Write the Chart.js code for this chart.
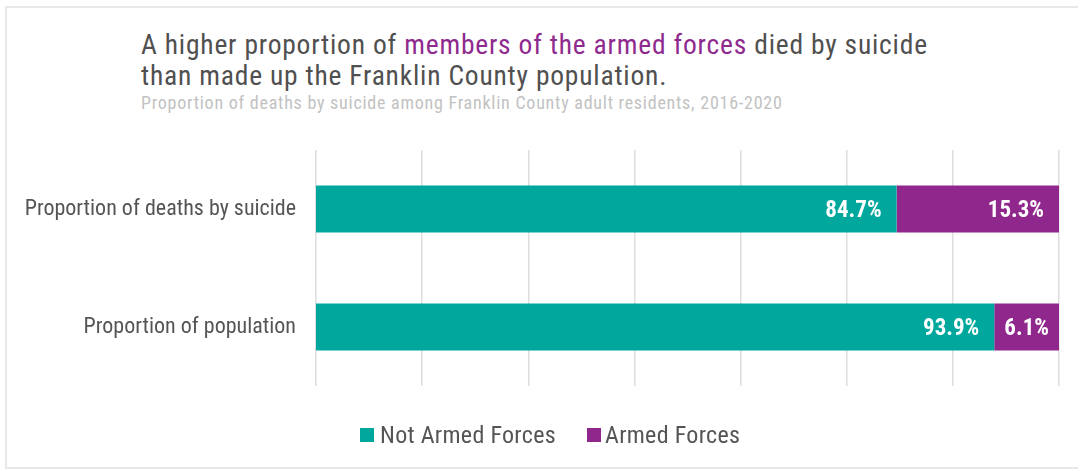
<!DOCTYPE html>
<html>
<head>
<meta charset="utf-8">
<script src="https://cdn.jsdelivr.net/npm/chart.js@4"></script>
<style>
  html, body { margin: 0; padding: 0; background: #fff; }
  body { width: 1078px; height: 470px; position: relative; overflow: hidden;
         font-family: "Liberation Sans Narrow", "Roboto Condensed", "DejaVu Sans Condensed", sans-serif; }
  .frame { position: absolute; left: 5px; top: 6px; width: 1200px; height: 463px;
           border: 2px solid #e8e8e8; box-sizing: border-box; }
  .title { position: absolute; left: 141px; top: 29px; font-size: 27.5px; line-height: 31px;
           letter-spacing: 0.8px; color: #505050; white-space: nowrap; }
  .title .hl { color: #8f2a8e; }
  .subtitle { position: absolute; left: 141px; top: 92px; font-size: 18px; letter-spacing: 0.75px;
              color: #c2c2c2; white-space: nowrap; }
  #wrap { position: absolute; left: 0; top: 0; width: 1078px; height: 470px; }
  .legend { position: absolute; top: 421px; left: 0; width: 1078px; height: 28px; font-size: 24px;
            color: #555; letter-spacing: 0.3px; }
  .legend span { position: absolute; top: 0; line-height: 28px; white-space: nowrap; }
  .legend i { position: absolute; top: 7px; width: 14px; height: 14px; }
</style>
</head>
<body>
<div class="frame"></div>
<div class="title">A higher proportion of <span class="hl">members of the armed forces</span> died by suicide<br>than made up the Franklin County population.</div>
<div class="subtitle">Proportion of deaths by suicide among Franklin County adult residents, 2016-2020</div>
<div id="wrap"><canvas id="chart"></canvas></div>
<div class="legend" id="legend"></div>
<script>
// Suicide deaths vs population, split by armed forces membership
const categories = ["Proportion of deaths by suicide", "Proportion of population"];
const seriesNames = ["Not Armed Forces", "Armed Forces"];
const seriesColors = ["#00a79d", "#8f278d"];
const notArmedForces = [84.7, 93.9];
const armedForces = [15.3, 6.1];
const axisMin = 30, axisMax = 100, axisStep = 10;

const FONT = "'Liberation Sans Narrow', 'Roboto Condensed', 'DejaVu Sans Condensed', sans-serif";

// white value labels at the inner end of each bar segment
const barLabels = {
  id: "barLabels",
  afterDatasetsDraw(chart) {
    const { ctx, chartArea } = chart;
    ctx.save();
    ctx.font = "bold 23px " + FONT;
    ctx.fillStyle = "#fff";
    ctx.textBaseline = "middle";
    chart.data.datasets.forEach((ds, i) => {
      chart.getDatasetMeta(i).data.forEach((bar, j) => {
        const txt = ds.data[j].toFixed(1) + "%";
        const right = bar.x;
        const left = Math.max(bar.base, chartArea.left);
        const w = ctx.measureText(txt).width;
        if (w + 30 <= right - left) {
          ctx.textAlign = "right";
          ctx.fillText(txt, right - 15, bar.y + 2);
        } else {
          ctx.textAlign = "center";
          ctx.fillText(txt, (left + right) / 2, bar.y + 2);
        }
      });
    });
    ctx.restore();
  }
};

new Chart(document.getElementById("chart"), {
  type: "bar",
  data: {
    labels: categories,
    datasets: [
      { label: seriesNames[0], data: notArmedForces, backgroundColor: seriesColors[0] },
      { label: seriesNames[1], data: armedForces, backgroundColor: seriesColors[1] }
    ]
  },
  options: {
    indexAxis: "y",
    responsive: true,
    maintainAspectRatio: false,
    animation: false,
    categoryPercentage: 1,
    barPercentage: 0.4,
    layout: { padding: { top: 150, right: 19, bottom: 84, left: 0 } },
    scales: {
      x: {
        stacked: true,
        min: axisMin, max: axisMax,
        afterFit(scale) { scale.height = 0; },
        ticks: { display: false, stepSize: axisStep },
        grid: { color: "#dedede", lineWidth: 1.5, drawTicks: false },
        border: { display: false }
      },
      y: {
        stacked: true,
        afterFit(scale) { scale.width = 316; },
        ticks: { color: "#555", font: { family: FONT, size: 22 }, padding: 20 },
        grid: { display: false, drawTicks: false },
        border: { display: false }
      }
    },
    plugins: {
      legend: { display: false },
      tooltip: { enabled: false }
    }
  },
  plugins: [barLabels]
});

// legend under the plot
const legendX = [[360, 380], [587, 605]];
const legendEl = document.getElementById("legend");
seriesNames.forEach((name, i) => {
  const box = document.createElement("i");
  box.style.left = legendX[i][0] + "px";
  box.style.background = seriesColors[i];
  const txt = document.createElement("span");
  txt.style.left = legendX[i][1] + "px";
  txt.textContent = name;
  legendEl.appendChild(box);
  legendEl.appendChild(txt);
});
</script>
</body>
</html>
